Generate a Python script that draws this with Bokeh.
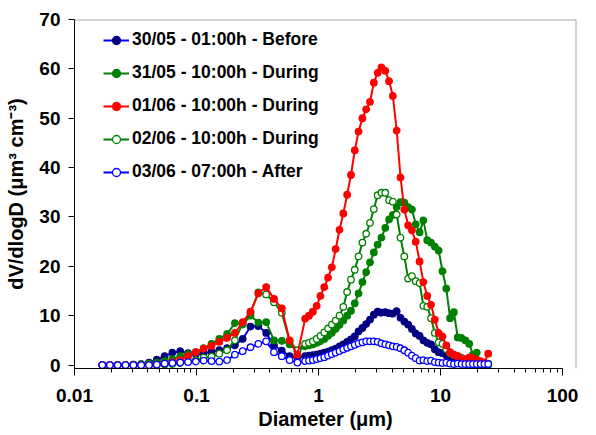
from bokeh.plotting import figure
from bokeh.models import (Range1d, FixedTicker, Legend, LegendItem, Span)
from bokeh.embed import file_html
from bokeh.resources import INLINE

# Diameters (um): SMPS channels followed by APS channels
smps_diam = [0.0169, 0.0195, 0.0226, 0.0262, 0.0304, 0.0352, 0.0408, 0.0473, 0.0548, 0.0635,
             0.0736, 0.0853, 0.0988, 0.1145, 0.1327, 0.1537, 0.1781, 0.2064, 0.2392, 0.2772,
             0.3212, 0.3722, 0.4313, 0.4998, 0.5792, 0.6711]
aps_diam = [0.777, 0.835, 0.898, 0.965, 1.037, 1.114, 1.197, 1.286, 1.382, 1.486, 1.596, 1.715,
            1.843, 1.981, 2.129, 2.288, 2.458, 2.642, 2.839, 3.051, 3.278, 3.523, 3.786, 4.068,
            4.371, 4.698, 5.048, 5.425, 5.829, 6.264, 6.732, 7.234, 7.774, 8.354, 8.977, 9.647,
            10.37, 11.14, 11.97, 12.86, 13.82, 14.86, 15.96, 17.15, 18.43, 19.81, 21.29, 22.88, 24.58]
diameter = smps_diam + aps_diam

labels = ["30/05 - 01:00h - Before", "31/05 - 10:00h - During", "01/06 - 10:00h - During",
          "02/06 - 10:00h - During", "03/06 - 07:00h - After"]

before_3005 = [0.0, 0.0, 0.0, 0.0, 0.1, 0.2, 0.5, 1.1, 1.8, 2.5, 2.8, 2.4, 2.2, 2.4, 2.7, 3.0, 3.4,
               4.0, 5.3, 7.8, 7.9, 6.5, 4.0, 2.9, 1.8, 1.6,
               1.8, 1.9, 2.0, 2.1, 2.3, 2.5, 2.7, 3.0, 3.3, 3.8, 4.2, 4.7, 5.2, 5.8, 6.8, 7.5, 8.3,
               9.2, 10.2, 10.8, 10.6, 10.7, 10.5, 10.4, 10.9, 9.6, 8.8, 8.2, 7.3, 6.4, 5.9, 5.0,
               4.5, 4.2, 3.2, 2.6, 2.4, 2.0, 1.5, 1.2, 1.0, 0.8, 0.5, 0.4, 0.3, 0.2, 0.2, 0.1, 0.1]
during_3105 = [0.0, 0.0, 0.0, 0.0, 0.1, 0.2, 0.3, 0.5, 0.8, 1.2, 1.8, 2.2, 2.6, 3.4, 4.3, 5.3, 6.3,
               8.5, 8.2, 10.0, 8.6, 8.7, 5.0, 4.9, 4.2, 2.8,
               3.8, 4.0, 4.2, 4.5, 4.8, 5.3, 5.9, 6.5, 7.3, 8.1, 9.0, 10.0, 11.0, 12.5, 14.5, 16.8,
               18.8, 20.8, 22.8, 24.4, 25.8, 27.8, 29.5, 30.4, 32.0, 33.0, 32.9, 32.0, 31.5, 28.5,
               26.9, 29.3, 25.3, 24.8, 24.0, 23.2, 19.0, 15.5, 9.5, 10.7, 5.6, 5.5, 5.0, 4.3, 2.1,
               2.5, 0.4, 0.3, 0.3]
during_0106 = [0.0, 0.0, 0.0, 0.0, 0.0, 0.0, 0.0, 0.1, 0.3, 0.6, 1.0, 1.8, 2.6, 3.3, 3.9, 4.7, 5.5,
               6.5, 8.7, 10.8, 14.5, 15.8, 13.4, 11.5, 5.0, 2.1,
               9.4, 10.0, 10.8, 12.0, 14.0, 15.8, 17.7, 19.8, 23.5, 27.4, 30.7, 34.5, 38.5, 43.5,
               47.3, 50.0, 51.8, 53.3, 57.2, 59.2, 60.3, 59.6, 57.5, 54.5, 47.5, 38.0, 31.5, 28.3,
               27.3, 25.0, 21.0, 16.8, 14.0, 12.2, 9.2, 6.5, 5.8, 4.0, 2.6, 2.1, 1.8, 1.2, 1.2,
               1.5, 1.4, 1.0, 0.8, 0.5, 2.3]
during_0206 = [0.0, 0.0, 0.0, 0.0, 0.0, 0.0, 0.0, 0.0, 0.1, 0.2, 0.4, 0.7, 1.0, 1.5, 1.7, 2.3, 3.0,
               5.0, 8.5, 10.6, 14.7, 14.3, 12.7, 10.6, 4.8, 3.0,
               4.3, 4.5, 4.8, 5.3, 5.9, 6.6, 7.4, 8.2, 9.0, 10.0, 11.8, 14.8, 17.3, 19.3, 22.0,
               24.8, 26.6, 28.8, 31.6, 34.4, 34.9, 34.9, 33.4, 33.1, 30.5, 25.8, 22.0, 17.5, 18.0,
               17.0, 16.6, 12.0, 11.8, 9.5, 6.5, 4.6, 4.3, 3.2, 2.4, 2.0, 1.8, 1.5, 1.0, 0.8, 0.5,
               0.3, 0.2, 0.2, 0.1]
after_0306 = [0.0, 0.0, 0.0, 0.0, 0.0, 0.0, 0.0, 0.1, 0.3, 0.4, 0.5, 0.6, 0.7, 0.9, 0.8, 0.7, 1.0,
              2.1, 2.8, 3.6, 4.3, 4.8, 2.6, 1.8, 1.0, 0.5,
              0.8, 0.9, 1.0, 1.2, 1.4, 1.6, 1.9, 2.2, 2.5, 2.8, 3.2, 3.5, 3.8, 4.1, 4.4, 4.6, 4.8,
              4.8, 4.8, 4.7, 4.4, 4.2, 4.0, 3.8, 3.7, 3.4, 3.0, 2.5, 1.9, 1.4, 0.9, 1.0, 0.8, 0.9,
              0.6, 0.5, 0.4, 0.5, 0.3, 0.2, 0.3, 0.2, 0.2, 0.2, 0.2, 0.2, 0.2, 0.2, 0.2]

x_ticks = [0.01, 0.1, 1, 10, 100]
x_tick_labels = ["0.01", "0.1", "1", "10", "100"]
y_ticks = [0, 10, 20, 30, 40, 50, 60, 70]

FONT = "Liberation Sans"

p = figure(width=586, height=434, x_axis_type="log", output_backend="svg", toolbar_location=None,
           x_range=Range1d(0.01, 130), y_range=Range1d(-0.7, 70),
           min_border_left=74, min_border_right=10, min_border_top=19, min_border_bottom=66)
p.outline_line_color = None
p.xgrid.grid_line_color = None
p.ygrid.grid_line_color = None
p.background_fill_color = "white"
p.border_fill_color = "white"

# frame (top and right grey lines)
p.add_layout(Span(location=70, dimension="width", line_color="#A8A8A8", line_width=2))
p.add_layout(Span(location=130, dimension="height", line_color="#A8A8A8", line_width=2))

minor = [m * t for t in x_ticks[:-1] for m in range(2, 10)]
p.xaxis.ticker = FixedTicker(ticks=x_ticks, minor_ticks=minor)
p.xaxis.major_label_overrides = dict(zip(x_ticks, x_tick_labels))
p.xaxis.bounds = (0.01, 100)
p.xaxis.major_tick_out = 7
p.xaxis.major_tick_in = 0
p.xaxis.minor_tick_out = 4
p.xaxis.minor_tick_in = 0
p.xaxis.major_label_standoff = 13
p.xaxis.axis_label = "Diameter (μm)"
p.xaxis.axis_label_standoff = 3

p.yaxis.ticker = FixedTicker(ticks=y_ticks, minor_ticks=[])
p.yaxis.major_tick_out = 6
p.yaxis.major_tick_in = 0
p.yaxis.minor_tick_out = 0
p.yaxis.minor_tick_in = 0
p.yaxis.major_label_standoff = 8
p.yaxis.axis_label = "dV/dlogD (μm³ cm⁻³)"
p.yaxis.axis_label_standoff = 9

for ax in (p.xaxis, p.yaxis):
    ax.axis_line_color = "black"
    ax.major_tick_line_color = "black"
    ax.minor_tick_line_color = "black"
    ax.major_label_text_font = FONT
    ax.major_label_text_font_style = "bold"
    ax.major_label_text_font_size = "19px"
    ax.major_label_text_color = "black"
    ax.axis_label_text_font = FONT
    ax.axis_label_text_font_style = "bold"
    ax.axis_label_text_font_size = "20px"
    ax.axis_label_text_color = "black"

series = [
    (before_3005, "#0000FF", "#000080", "#000080"),
    (during_3105, "#008000", "#008000", "#008000"),
    (during_0206, "#008000", "#008000", "white"),
    (during_0106, "#FF0000", "#FF0000", "#FF0000"),
    (after_0306, "#0000FF", "#0000FF", "white"),
]
order_labels = [labels[0], labels[1], labels[3], labels[2], labels[4]]

items = {}
for (vals, lc, mc, fc), lab in zip(series, order_labels):
    lr = p.line(diameter, vals, line_color=lc, line_width=2)
    sr = p.scatter(diameter, vals, marker="circle", size=6.5, line_color=mc, fill_color=fc,
                   line_width=1.3)
    items[lab] = [lr, sr]

legend = Legend(items=[LegendItem(label=l, renderers=items[l]) for l in labels],
                location=(29, 186))
legend.background_fill_alpha = 0
legend.border_line_color = None
legend.padding = 0
legend.margin = 0
legend.spacing = 12
legend.glyph_width = 26
legend.glyph_height = 20
legend.label_height = 20
legend.label_standoff = 3
legend.label_text_font = FONT
legend.label_text_font_style = "bold"
legend.label_text_font_size = "17.5px"
legend.label_text_color = "black"
p.add_layout(legend)

open("out.html", "w").write(file_html(p, INLINE))
